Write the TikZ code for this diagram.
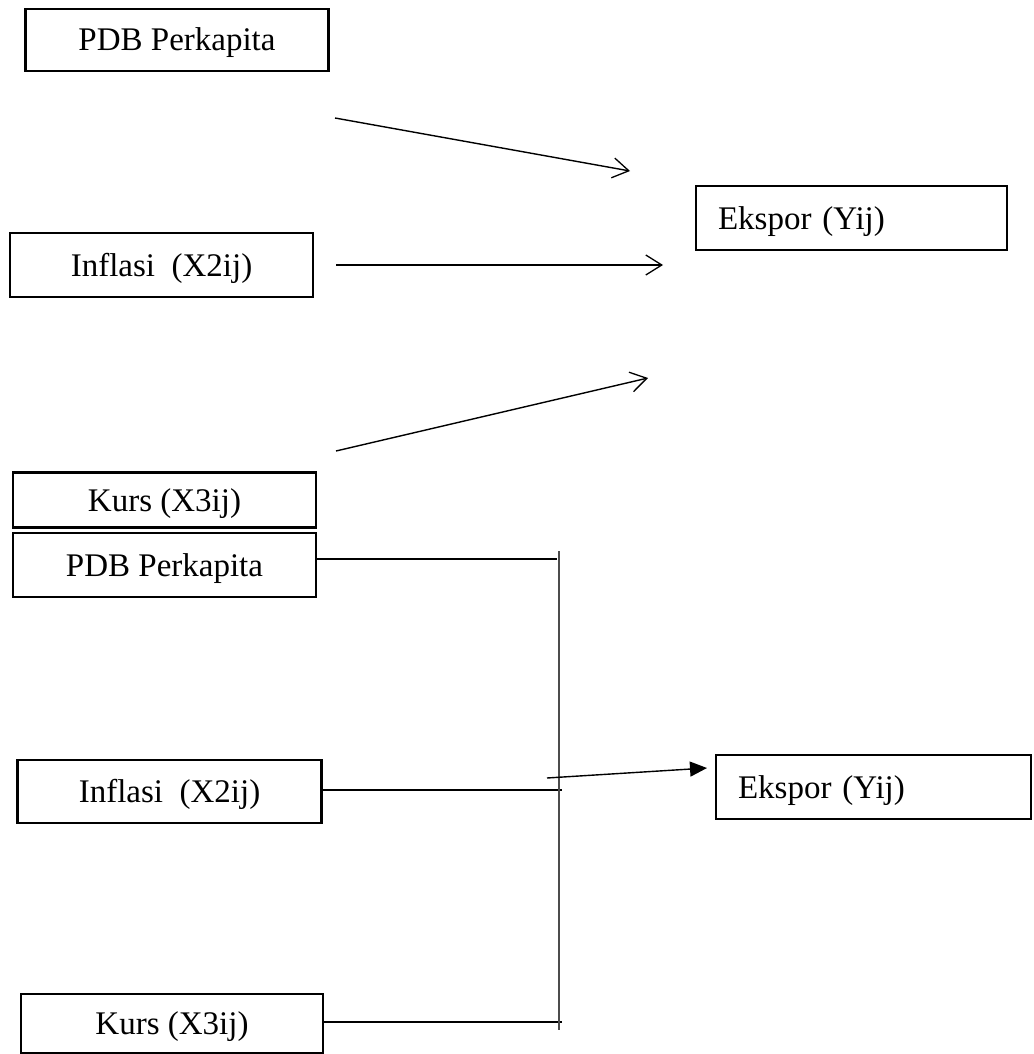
\documentclass[tikz,border=0pt]{standalone}
\usepackage{fontspec}
\setmainfont{Liberation Serif}
\usetikzlibrary{arrows.meta}
\tikzset{
  box/.style={draw, line width=2.5pt, inner sep=0pt, text height=22pt, text depth=0pt,
    font=\fontsize{33}{39}\selectfont},
  leftbox/.style={box, align=left, inner xsep=22pt},
  conn/.style={line width=1.4pt},
  openarrow/.style={conn, -{Straight Barb[length=16pt,width=20pt,line width=1.3pt]}},
  solidarrow/.style={conn, -{Triangle[length=17pt,width=15pt]}},
  bus/.style={line width=1.7pt, draw=black!70}
}
\begin{document}
\begin{tikzpicture}[x=1pt,y=-1pt]
\useasboundingbox (0,0) rectangle (1033,1054);
% top diagram
\node[box, minimum width=303pt, minimum height=62pt] (pdb1) at (177,40) {PDB Perkapita};
\node[box, minimum width=303pt, minimum height=64pt] (inf1) at (161.5,265) {Inflasi\ \ (X2ij)};
\node[box, minimum width=303pt, minimum height=55pt] (kurs1) at (164.5,500) {Kurs (X3ij)};
\node[leftbox, text width=267pt, minimum height=64pt] (eks1) at (851.5,218) {Ekspor (Yij)};
\coordinate (a1s) at (335,118);
\coordinate (a1e) at (630,171);
\coordinate (a2s) at (336,265);
\coordinate (a2e) at (663,265);
\coordinate (a3s) at (336,451);
\coordinate (a3e) at (648,378);
\draw[openarrow] (a1s) -- (a1e);
\draw[openarrow] (a2s) -- (a2e);
\draw[openarrow] (a3s) -- (a3e);
% bottom diagram
\node[box, minimum width=303pt, minimum height=64pt] (pdb2) at (164.5,565) {PDB Perkapita};
\node[box, minimum width=304pt, minimum height=63pt] (inf2) at (169.5,791.5) {Inflasi\ \ (X2ij)};
\node[box, minimum width=302pt, minimum height=59pt] (kurs2) at (172,1023.5) {Kurs (X3ij)};
\node[leftbox, text width=271pt, minimum height=64pt] (eks2) at (873.5,787) {Ekspor (Yij)};
\coordinate (bustop) at (559,551);
\coordinate (busbot) at (559,1030);
\coordinate (e1) at (557,559);
\coordinate (e2) at (562,790);
\coordinate (e3) at (562,1022);
\draw[conn] (pdb2.east |- e1) -- (e1);
\draw[conn] (inf2.east |- e2) -- (e2);
\draw[conn] (kurs2.east |- e3) -- (e3);
\draw[bus] (bustop) -- (busbot);
\coordinate (a4s) at (547,778);
\coordinate (a4e) at (707,768);
\draw[solidarrow] (a4s) -- (a4e);
\end{tikzpicture}
\end{document}
